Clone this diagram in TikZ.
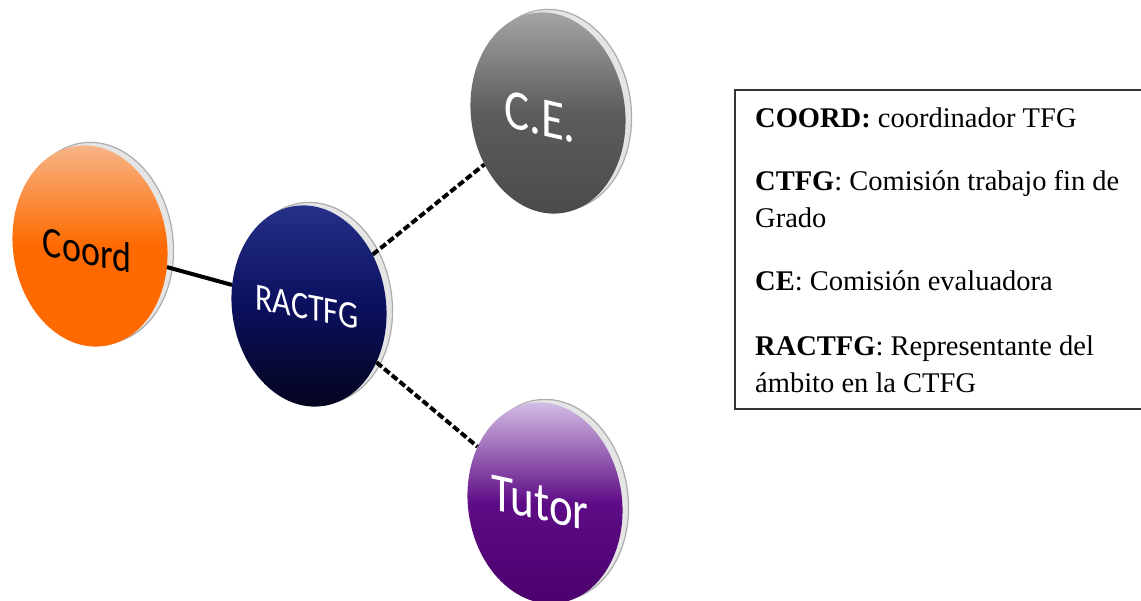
\documentclass[tikz,border=0pt]{standalone}
\usepackage{fontspec}
\setmainfont{Liberation Serif}
\newfontfamily\circfont{Carlito}
\usetikzlibrary{shapes.geometric}
\definecolor{coordtop}{HTML}{F6B88E}
\definecolor{coordbase}{HTML}{FF6A00}
\definecolor{racttop}{HTML}{27328A}
\definecolor{ractmid}{HTML}{0B105E}
\definecolor{ractbot}{HTML}{03031A}
\definecolor{cetop}{HTML}{A8A8A8}
\definecolor{cemid}{HTML}{5C5C5C}
\definecolor{cebot}{HTML}{4A4A4A}
\definecolor{tuttop}{HTML}{D9C6EA}
\definecolor{tutmid}{HTML}{5E0C86}
\definecolor{tutbot}{HTML}{4A006B}
\begin{document}
\begin{tikzpicture}[x=1pt,y=-1pt,
  disk/.style={ellipse, inner sep=0pt, minimum width=154pt, minimum height=202pt, rotate=8},
  rimdisk/.style={disk, fill=gray!20, draw=gray!65, line width=1.2pt},
  lbl/.style={font=\circfont, inner sep=0pt, yscale=1.2},
  solidlink/.style={line width=4pt, black},
  dashlink/.style={line width=4pt, black, dash pattern=on 7pt off 3pt},
  legend/.style={font=\fontsize{28.5}{37}\selectfont, anchor=base west, inner sep=0pt}]
\clip (0,0) rectangle (1141,600);
\fill[white] (0,0) rectangle (1141,600);

% rims
\node[rimdisk] (coordrim) at (96,243) {};
\node[rimdisk] (ractrim) at (315,303) {};
\node[rimdisk] (cerim) at (554,110) {};
\node[rimdisk] (tutrim) at (551,500) {};

% disks
\node[disk, top color=coordtop, bottom color=coordbase, middle color=coordbase] (coord) at (90,246) {};
\node[disk, top color=racttop, bottom color=ractbot, middle color=ractmid] (ract) at (309,306) {};
\node[disk, top color=cetop, bottom color=cebot, middle color=cemid] (ce) at (548,113) {};
\node[disk, top color=tuttop, bottom color=tutbot, middle color=tutmid] (tutor) at (545,503) {};

% connectors
\draw[solidlink] (coord) -- (ract);
\draw[dashlink] (ract) -- (ce);
\draw[dashlink] (ract) -- (tutor);

% labels
\node[lbl, text=black, yslant=-0.17] (coordtxt) at (87,250) {\fontsize{36}{36}\selectfont Coord};
\node[lbl, text=white, yslant=-0.16] (racttxt) at (307,307) {\fontsize{32}{32}\selectfont RACTFG};
\node[lbl, text=white, yslant=-0.19] (cetxt) at (540,117) {\fontsize{47}{47}\selectfont C.E.};
\node[lbl, text=white, yslant=-0.18] (tuttxt) at (540,503) {\fontsize{45}{45}\selectfont Tutor};

% legend box
\coordinate (legnw) at (735,90);
\coordinate (legse) at (1160,409);
\draw[line width=2pt, black!80] (legnw) rectangle (legse);
\node[legend] (leg1) at (755,127) {\textbf{COORD:} coordinador TFG};
\node[legend] (leg2a) at (755,190) {\textbf{CTFG}: Comisión trabajo fin de};
\node[legend] (leg2b) at (755,227) {Grado};
\node[legend] (leg3) at (755,290) {\textbf{CE}: Comisión evaluadora};
\node[legend] (leg4a) at (755,355) {\textbf{RACTFG}: Representante del};
\node[legend] (leg4b) at (755,392) {ámbito en la CTFG};
\end{tikzpicture}
\end{document}
